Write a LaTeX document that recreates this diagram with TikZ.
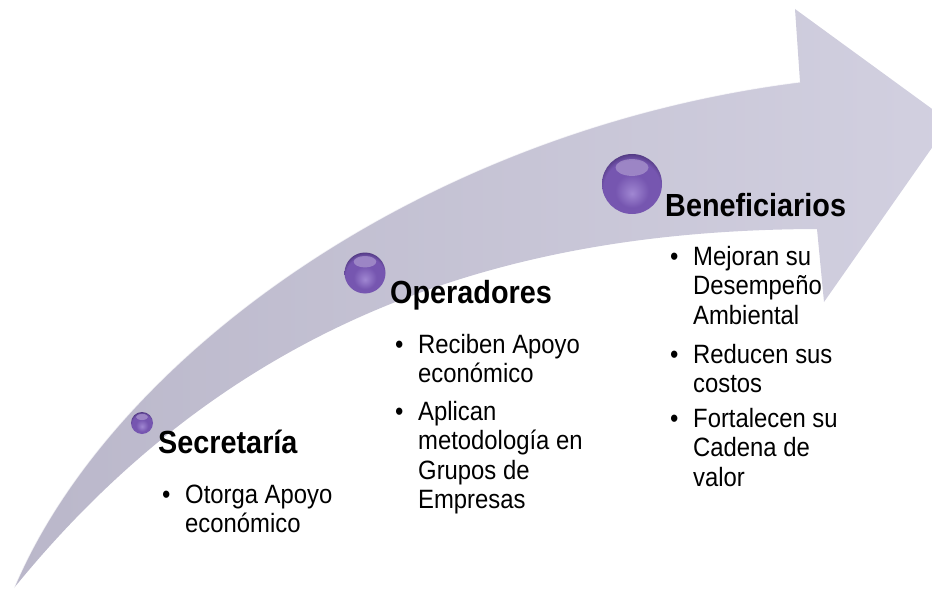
\documentclass[tikz,border=0pt]{standalone}
\usepackage{fontspec}
\setmainfont{Liberation Sans}[FakeStretch=0.9]
\definecolor{ShaftL}{RGB}{186,183,202}
\definecolor{ShaftR}{RGB}{210,208,224}
\definecolor{Ball}{RGB}{118,86,176}
\definecolor{BallLight}{RGB}{160,135,210}
\definecolor{BallDark}{RGB}{72,50,118}
\pgfdeclareradialshading{orb}{\pgfpoint{0bp}{-8bp}}{color(0bp)=(BallLight); color(14bp)=(Ball); color(24bp)=(Ball); color(30bp)=(BallDark); color(50bp)=(BallDark)}
\newcommand{\heading}[4]{\node[anchor=base west, inner sep=0pt, font=\bfseries\fontsize{32}{32}\selectfont] (#1) at (#2,#3) {#4};}
\newcommand{\bulletitem}[5]{
    \node[anchor=base west, inner sep=0pt, font=\fontsize{26.5}{29.5}\selectfont] (#1-dot) at (#2-23,#3) {\textbullet};
    \node[anchor=base west, inner sep=0pt, align=left, font=\fontsize{26.5}{29.5}\selectfont] (#1) at ({#2},{#3+(#4-1)*29.5}) {#5};
}
\newcommand{\gloss}[3]{\fill[white, opacity=.28] (#1,#2-.55*#3) ellipse ({.55*#3} and {.28*#3});}
\tikzset{sphere/.style={circle, inner sep=0pt, shading=orb}}

\begin{document}
\begin{tikzpicture}[x=1pt,y=-1pt]
\useasboundingbox (0,0) rectangle (932,591);
\shade[left color=ShaftL, right color=ShaftR] (14,588) .. controls (110,360) and (420,130) .. (800,82)
    -- (795,9) -- (950,122) -- (824,302) -- (817,229)
    .. controls (520,230) and (240,310) .. cycle;
\draw[white, line width=1pt, opacity=.7] (14,588) .. controls (110,360) and (420,130) .. (800,82);
\node[sphere, minimum size=22pt] (ball1) at (142,423) {};
\node[sphere, minimum size=41pt] (ball2) at (365,273) {};
\node[sphere, minimum size=60pt] (ball3) at (632,184) {};
\gloss{142}{423}{11}\gloss{365}{273}{20.5}\gloss{632}{184}{30}
\heading{secretaria}{158}{453}{Secretaría}
\heading{operadores}{390}{303}{Operadores}
\heading{beneficiarios}{665}{216}{Beneficiarios}
\bulletitem{otorga}{185}{503}{2}{Otorga Apoyo\\económico}
\bulletitem{reciben}{418}{353}{2}{Reciben Apoyo\\económico}
\bulletitem{aplican}{418}{420}{4}{Aplican\\metodología en\\Grupos de\\Empresas}
\bulletitem{mejoran}{693}{265}{3}{Mejoran su\\Desempeño\\Ambiental}
\bulletitem{reducen}{693}{363}{2}{Reducen sus\\costos}
\bulletitem{fortalecen}{693}{427}{3}{Fortalecen su\\Cadena de\\valor}
\end{tikzpicture}
\end{document}
